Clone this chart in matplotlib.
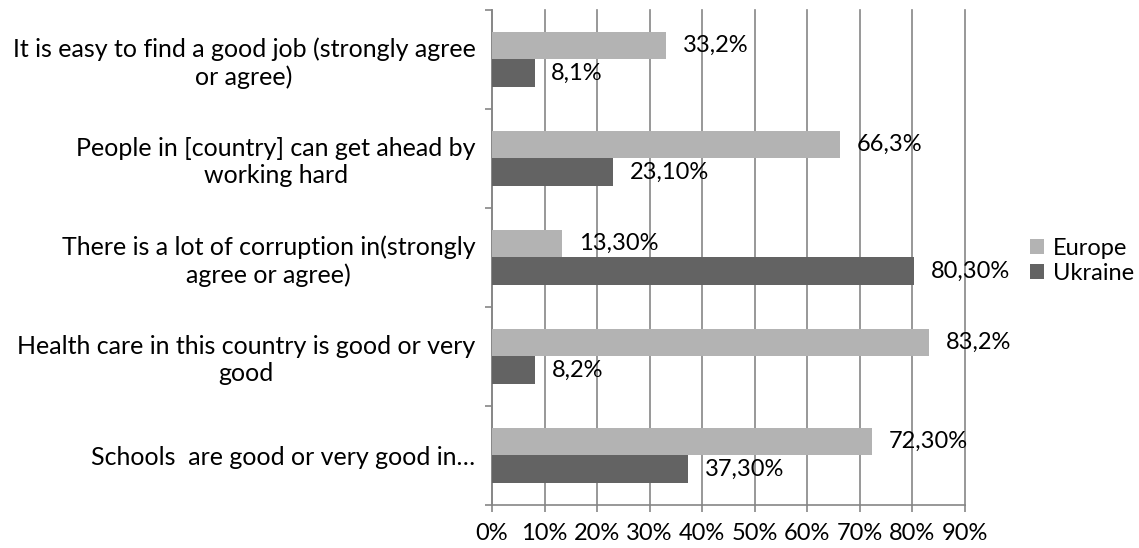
import matplotlib
matplotlib.use("Agg")
import matplotlib.pyplot as plt
import numpy as np
from matplotlib.ticker import FuncFormatter

categories = [
    "It is easy to find a good job (strongly agree\nor agree)",
    "People in [country] can get ahead by\nworking hard",
    "There is a lot of corruption in(strongly\nagree or agree)",
    "Health care in this country is good or very\ngood",
    "Schools  are good or very good in\u2026",
]
europe = [33.2, 66.3, 13.3, 83.2, 72.3]
ukraine = [8.1, 23.1, 80.3, 8.2, 37.3]
europe_labels = ["33,2%", "66,3%", "13,30%", "83,2%", "72,30%"]
ukraine_labels = ["8,1%", "23,10%", "80,30%", "8,2%", "37,30%"]
xticks = [0, 10, 20, 30, 40, 50, 60, 70, 80, 90]

plt.rcParams['font.family'] = ['Lato', 'DejaVu Sans']
FS = 17
FS_CAT = 18

fig = plt.figure(figsize=(11.39, 5.48), dpi=100)
ax = fig.add_axes([0.432, 0.0785, 0.415, 0.9035])

n = len(categories)
y = np.arange(n)[::-1].astype(float)  # top category at highest y
h = 0.28
c_eu = "#b3b3b3"
c_ua = "#636363"
b1 = ax.barh(y + h / 2, europe, height=h, color=c_eu, label="Europe", zorder=3)
b2 = ax.barh(y - h / 2, ukraine, height=h, color=c_ua, label="Ukraine", zorder=3)

for rects, labs in ((b1, europe_labels), (b2, ukraine_labels)):
    for r, lab in zip(rects, labs):
        ax.annotate(lab, (r.get_width(), r.get_y() + r.get_height() / 2),
                    xytext=(12, 0), textcoords="offset points",
                    ha="left", va="center", fontsize=FS, color="#000000", zorder=5)

ax.set_xlim(0, 90)
ax.set_ylim(-0.5, n - 0.5)
ax.set_xticks(xticks)
ax.xaxis.set_major_formatter(FuncFormatter(lambda v, p: f"{int(round(v))}%"))
ax.grid(axis="x", color="#868686", linewidth=1.2, zorder=0)
for gl in ax.get_xgridlines():
    gl.set_clip_on(False)
ax.set_axisbelow(True)

# category labels centered in bands, ticks at boundaries
ax.set_yticks(np.arange(-0.5, n, 1.0))
ax.set_yticklabels([])
ax.set_yticks(y, minor=True)
ax.set_yticklabels(categories, minor=True, fontsize=FS_CAT, ha="right", multialignment="center")
ax.tick_params(axis="y", which="minor", length=0, pad=12)
ax.tick_params(axis="y", which="major", length=5, color="#868686", width=1.2, direction="out")
ax.tick_params(axis="x", length=5, color="#868686", width=1.2, direction="out", labelsize=FS, pad=8)

for s in ("top", "right"):
    ax.spines[s].set_visible(False)
ax.spines["left"].set_color("#868686")
ax.spines["bottom"].set_color("#868686")
ax.spines["left"].set_linewidth(1.2)
ax.spines["bottom"].set_linewidth(1.2)

leg = fig.legend(handles=[b1, b2], labels=["Europe", "Ukraine"], loc="center left",
                 bbox_to_anchor=(0.904, 0.524), frameon=False, fontsize=FS,
                 handlelength=0.6, handleheight=0.6, handletextpad=0.4, labelspacing=0.15,
                 borderaxespad=0, borderpad=0)

fig.savefig("out.png", dpi=100)
